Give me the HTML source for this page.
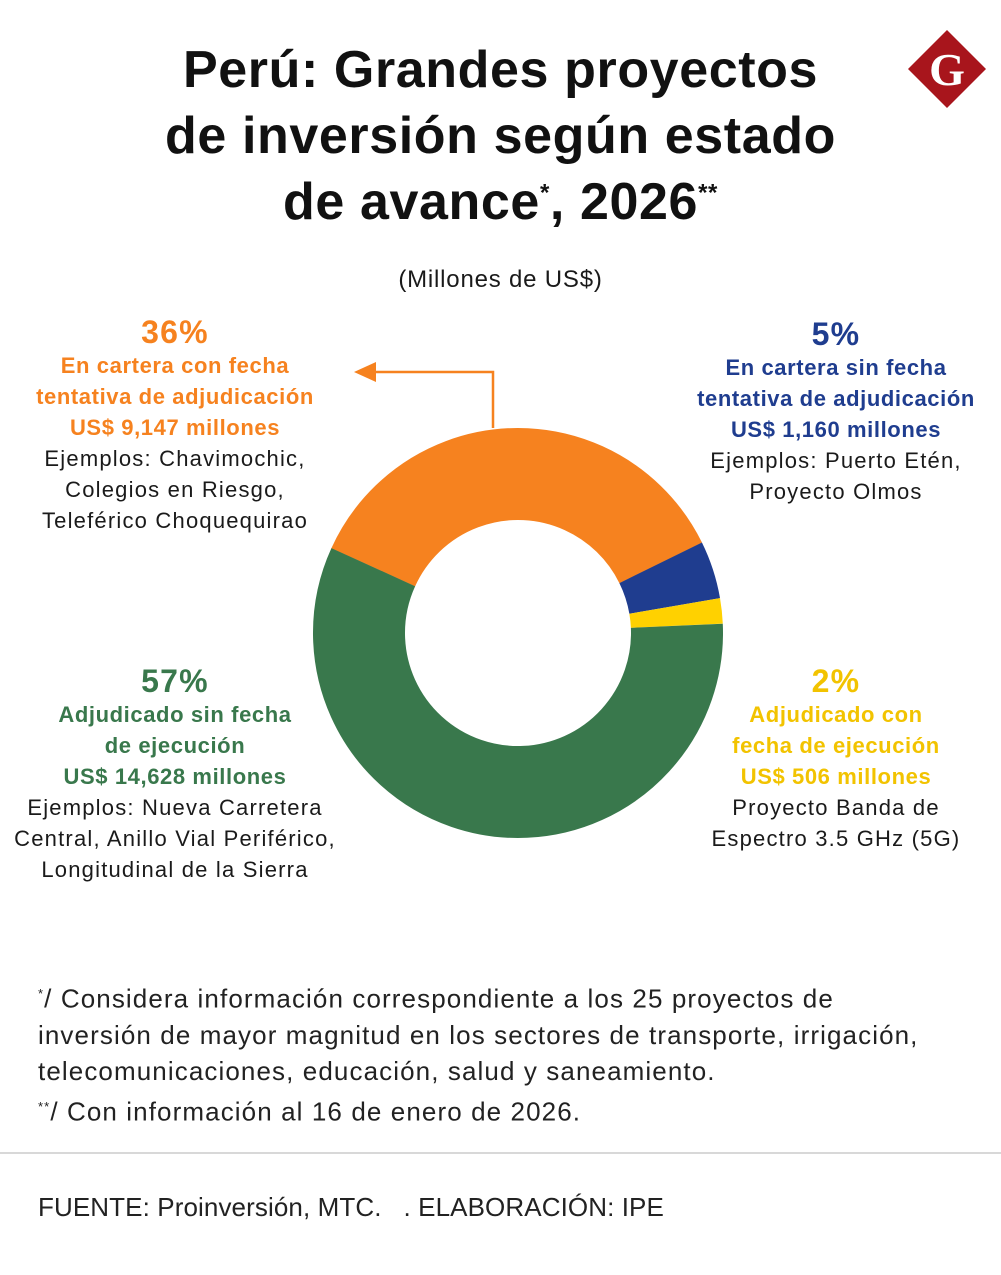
<!DOCTYPE html>
<html><head><meta charset="utf-8"><style>
body{margin:0;width:1001px;height:1275px;background:#fff;font-family:"Liberation Sans",sans-serif;position:relative;overflow:hidden;color:#1a1a1a}
.t{position:absolute;left:0;width:1001px;text-align:center;font-weight:900;font-size:52px;letter-spacing:0.6px;color:#111}
.c{position:absolute;text-align:center;font-size:22px;line-height:31px;letter-spacing:1.2px}
.b{font-weight:bold;letter-spacing:0.6px}
.p{font-weight:bold;font-size:32px;line-height:36px}
.abs{position:absolute}
</style></head><body>
<div class="t" style="top:40px">Perú: Grandes proyectos</div>
<div class="t" style="top:106px">de inversión según estado</div>
<div class="t" style="top:172px">de avance<sup style="font-size:24px">*</sup>, 2026<sup style="font-size:24px">**</sup></div>
<svg class="abs" style="left:905px;top:27px" width="84" height="84"><polygon points="42,3 81,42 42,81 3,42" fill="#A8151C"/><text x="42" y="58" text-anchor="middle" font-family="Liberation Serif" font-weight="bold" font-size="46" fill="#fff">G</text></svg>
<div class="c" style="left:0;width:1001px;top:264px;font-size:24px;letter-spacing:0.8px">(Millones de US$)</div>
<svg class="abs" style="left:0;top:0" width="1001" height="1275">
<g fill="none" stroke-width="92">
<circle cx="518" cy="633" r="159" stroke="#F6821F" stroke-dasharray="359.1 1000" transform="rotate(204.4 518 633)"/>
<circle cx="518" cy="633" r="159" stroke="#1F3D8F" stroke-dasharray="45.5 1000" transform="rotate(-26.2 518 633)"/>
<circle cx="518" cy="633" r="159" stroke="#FFD100" stroke-dasharray="20 1000" transform="rotate(-9.8 518 633)"/>
<circle cx="518" cy="633" r="159" stroke="#39784C" stroke-dasharray="574.4 1000" transform="rotate(-2.6 518 633)"/>
</g>
<polyline points="493,428 493,372 370,372" fill="none" stroke="#F6821F" stroke-width="2.5"/>
<polygon points="354,372 376,362 376,382" fill="#F6821F"/>
<line x1="0" y1="1153" x2="1001" y2="1153" stroke="#ccc" stroke-width="1.5"/>
</svg>
<div class="c" style="left:0;width:350px;top:314px"><div class="p" style="color:#F6821F">36%</div><div class="b" style="color:#F6821F">En cartera con fecha<br>tentativa de adjudicación<br>US$ 9,147 millones</div>Ejemplos: Chavimochic,<br>Colegios en Riesgo,<br>Teleférico Choquequirao</div>
<div class="c" style="left:661px;width:350px;top:316px"><div class="p" style="color:#1F3D8F">5%</div><div class="b" style="color:#1F3D8F">En cartera sin fecha<br>tentativa de adjudicación<br>US$ 1,160 millones</div>Ejemplos: Puerto Etén,<br>Proyecto Olmos</div>
<div class="c" style="left:-20px;width:390px;top:663px"><div class="p" style="color:#39784C">57%</div><div class="b" style="color:#39784C">Adjudicado sin fecha<br>de ejecución<br>US$ 14,628 millones</div>Ejemplos: Nueva Carretera<br>Central, Anillo Vial Periférico,<br>Longitudinal de la Sierra</div>
<div class="c" style="left:661px;width:350px;top:663px"><div class="p" style="color:#F2C300">2%</div><div class="b" style="color:#F2C300">Adjudicado con<br>fecha de ejecución<br>US$ 506 millones</div>Proyecto Banda de<br>Espectro 3.5 GHz (5G)</div>
<div class="abs" style="left:38px;top:976px;font-size:26px;line-height:36px;letter-spacing:1.1px;color:#222;white-space:nowrap"><sup style="font-size:13px">*</sup>/ Considera información correspondiente a los 25 proyectos de<br>inversión de mayor magnitud en los sectores de transporte, irrigación,<br>telecomunicaciones, educación, salud y saneamiento.<br><sup style="font-size:13px">**</sup>/ Con información al 16 de enero de 2026.</div>
<div class="abs" style="left:38px;top:1192px;font-size:26px;letter-spacing:0.1px;color:#222">FUENTE: Proinversión, MTC.&nbsp;&nbsp;&nbsp;. ELABORACIÓN: IPE</div>
</body></html>
